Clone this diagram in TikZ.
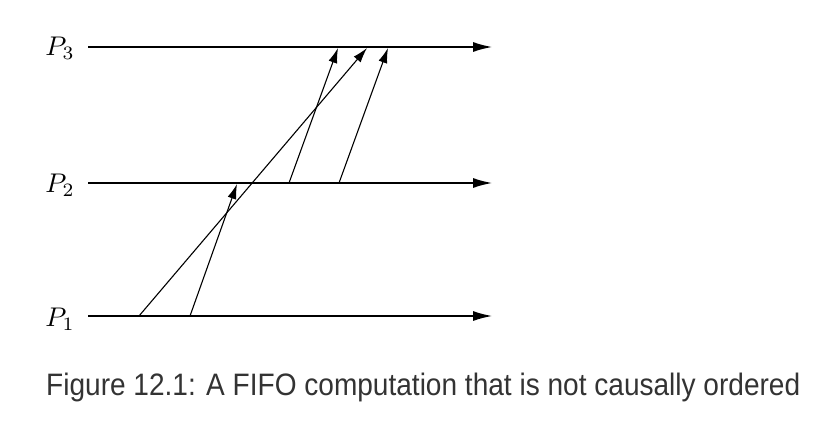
\documentclass[tikz,border=0pt]{standalone}
\usepackage{fontspec}
\newfontfamily\capfont{Liberation Sans}
\usetikzlibrary{arrows.meta}
\definecolor{capgray}{HTML}{333333}
\begin{document}
\begin{tikzpicture}[x=1pt,y=-1pt,
  proc/.style={line width=1.3pt,-{Latex[length=19pt,width=10pt]}},
  msg/.style={line width=1.1pt,-{Latex[length=15pt,width=9pt]}},
  plabel/.style={anchor=center,inner sep=0pt,scale=2.7}]
\useasboundingbox (0,0) rectangle (832,423);
\node[plabel] (L3) at (60,48) {$P_3$};
\node[plabel] (L2) at (60,185) {$P_2$};
\node[plabel] (L1) at (60,319) {$P_1$};
\coordinate (s3) at (88,47);  \coordinate (e3) at (492,47);
\coordinate (s2) at (88,183); \coordinate (e2) at (492,183);
\coordinate (s1) at (88,316); \coordinate (e1) at (492,316);
\draw[proc] (s3) -- (e3);
\draw[proc] (s2) -- (e2);
\draw[proc] (s1) -- (e1);
\coordinate (a1) at (139,316); \coordinate (a2) at (367,48);
\coordinate (b1) at (190,316); \coordinate (b2) at (237,184);
\coordinate (c1) at (289,183); \coordinate (c2) at (338,48);
\coordinate (d1) at (339,183); \coordinate (d2) at (388,48);
\draw[msg] (a1) -- (a2);
\draw[msg] (b1) -- (b2);
\draw[msg] (c1) -- (c2);
\draw[msg] (d1) -- (d2);
\node[anchor=west,inner sep=0pt,text=capgray] (cap) at (46,387)
  {\resizebox{754pt}{\height}{\capfont\fontsize{31}{36}\selectfont Figure 12.1: A FIFO computation that is not causally ordered}};
\end{tikzpicture}
\end{document}
